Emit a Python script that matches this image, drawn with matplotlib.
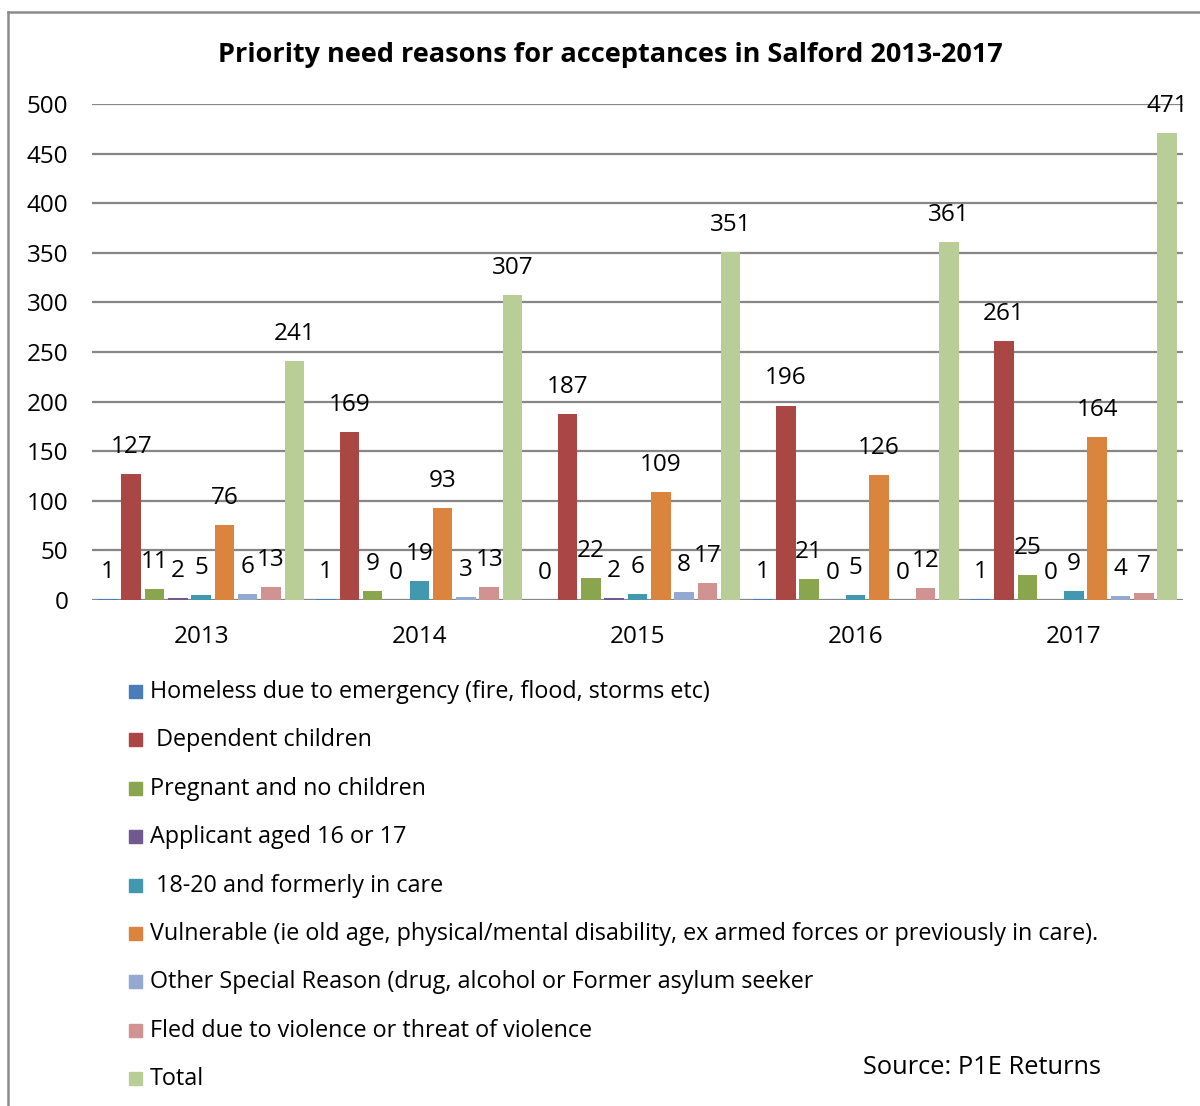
import matplotlib
matplotlib.use("Agg")
import matplotlib.pyplot as plt
from matplotlib.patches import Rectangle
from matplotlib.lines import Line2D
import numpy as np

plt.rcParams['font.family'] = ['Open Sans', 'DejaVu Sans']

years = ["2013", "2014", "2015", "2016", "2017"]
series_names = [
    "Homeless due to emergency (fire, flood, storms etc)",
    " Dependent children",
    "Pregnant and no children",
    "Applicant aged 16 or 17",
    " 18-20 and formerly in care",
    "Vulnerable (ie old age, physical/mental disability, ex armed forces or previously in care).",
    "Other Special Reason (drug, alcohol or Former asylum seeker",
    "Fled due to violence or threat of violence",
    "Total",
]
homeless = [1, 1, 0, 1, 1]
dependent = [127, 169, 187, 196, 261]
pregnant = [11, 9, 22, 21, 25]
aged_16_17 = [2, 0, 2, 0, 0]
care_18_20 = [5, 19, 6, 5, 9]
vulnerable = [76, 93, 109, 126, 164]
other_special = [6, 3, 8, 0, 4]
fled_violence = [13, 13, 17, 12, 7]
total = [241, 307, 351, 361, 471]
series_values = [homeless, dependent, pregnant, aged_16_17, care_18_20,
                 vulnerable, other_special, fled_violence, total]
colors = ["#4A7EBB", "#AA4643", "#89A54E", "#71588F", "#4198AF",
          "#DB843D", "#93A9CF", "#D19392", "#B9CD96"]

W, H = 1200, 1106
fig = plt.figure(figsize=(W / 100, H / 100), dpi=100)

def fx(x):
    return x / W

def fy(y):
    return 1 - y / H

FS_LEG = 16.8
FS_NUM = 17.5

# outer frame (left & top visible)
fig.add_artist(Line2D([fx(8), fx(8)], [fy(12), fy(1110)], color="#8C8C8C", lw=1.8,
                      transform=fig.transFigure))
fig.add_artist(Line2D([fx(8), fx(1205)], [fy(12), fy(12)], color="#8C8C8C", lw=1.8,
                      transform=fig.transFigure))

left, right, top, bottom = 92, 1183, 104, 600
ax = fig.add_axes([fx(left), fy(bottom), fx(right - left), (bottom - top) / H])
ax.set_xlim(-0.5, 4.5)
ax.set_ylim(0, 500)
for s in ax.spines.values():
    s.set_visible(False)
ax.set_yticks(np.arange(0, 501, 50))
ax.yaxis.grid(True, color="#868686", lw=1.6)
ax.set_axisbelow(True)
ax.tick_params(axis='y', length=0, labelsize=FS_NUM, pad=17, labelcolor="#000000")
ax.tick_params(axis='x', length=0, labelsize=FS_NUM, pad=18)
ax.set_xticks(range(len(years)))
ax.set_xticklabels(years)

step = 23.3 / 218.2
width = 19.5 / 218.2
x = np.arange(len(years))
for i, (vals, col) in enumerate(zip(series_values, colors)):
    pos = x + (i - 4) * step
    ax.bar(pos, vals, width=width, color=col, zorder=3)
    for px, v in zip(pos, vals):
        ax.annotate(str(v), (px, v), xytext=(0, 19.5), textcoords="offset points",
                    ha="center", va="center", fontsize=FS_NUM, color="#000000", zorder=4)

fig.text(fx(610), fy(55), "Priority need reasons for acceptances in Salford 2013-2017",
         ha="center", va="center", fontsize=19.5, fontweight="bold")

# legend
ly0, ldy = 692, 48.4
for i, (name, col) in enumerate(zip(series_names, colors)):
    yy = ly0 + i * ldy
    fig.add_artist(Rectangle((fx(129), fy(yy + 6)), fx(13), 13 / H, color=col,
                             transform=fig.transFigure))
    fig.text(fx(150), fy(yy), name, ha="left", va="center", fontsize=FS_LEG)

fig.text(fx(863), fy(1068), "Source: P1E Returns", ha="left", va="center", fontsize=18.3)

fig.savefig("out.png", dpi=100)
